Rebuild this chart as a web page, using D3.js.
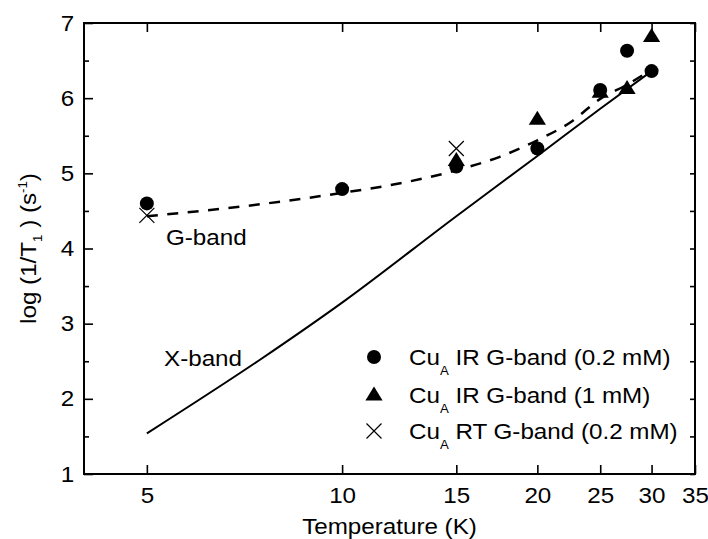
<!DOCTYPE html>
<html>
<head>
<meta charset="utf-8">
<script src="https://cdn.jsdelivr.net/npm/d3@7"></script>
<style>
  html, body { margin: 0; padding: 0; background: #fff; }
  svg { display: block; font-family: "Liberation Sans", Arial, Helvetica, sans-serif; }
</style>
</head>
<body>
<svg id="chart" width="708" height="539"></svg>
<script>
// Temperature axis (log spaced) and relaxation-rate axis
const tempTicks = [5, 10, 15, 20, 25, 30, 35];
const rateTicks = [1, 2, 3, 4, 5, 6, 7];
const rateMinorTicks = [1.5, 2.5, 3.5, 4.5, 5.5, 6.5];

// Cu_A IR G-band (0.2 mM)
const irLowT    = [5, 10, 15, 20, 25, 27.5, 30];
const irLowRate = [4.60, 4.79, 5.09, 5.33, 6.11, 6.63, 6.36];

// Cu_A IR G-band (1 mM)
const irHighT    = [15, 20, 25, 27.5, 30];
const irHighRate = [5.17, 5.72, 6.08, 6.13, 6.82];

// Cu_A RT G-band (0.2 mM)
const rtLowT    = [5, 15];
const rtLowRate = [4.44, 5.33];

// G-band fit curve (dashed)
const gFitT    = [5, 7.5, 10, 12.5, 15, 17.5, 20, 22.5, 25, 27.5, 30];
const gFitRate = [4.43, 4.59, 4.74, 4.88, 5.04, 5.22, 5.44, 5.68, 5.99, 6.18, 6.38];

// X-band curve (solid)
const xFitT    = [5, 7.5, 10, 15, 20, 25, 30];
const xFitRate = [1.54, 2.53, 3.28, 4.43, 5.23, 5.86, 6.36];

const legendLabels = ["IR G-band (0.2 mM)", "IR G-band (1 mM)", "RT G-band (0.2 mM)"];

const W = 708, H = 539;
const plot = { left: 84, right: 695, top: 23, bottom: 474 };
const FS = 22;           // main font size
const STRETCH = 1.1;     // slightly wide lettering

const svg = d3.select("#chart");

const x = d3.scaleLog().domain([4, 35]).range([plot.left, plot.right]);
const y = d3.scaleLinear().domain([1, 7]).range([plot.bottom, plot.top]);

const zip = (a, b) => a.map((v, i) => [v, b[i]]);

// ---- axes ----
const fmt = d3.format("d");

const gBottom = svg.append("g")
  .attr("transform", `translate(0,${plot.bottom})`)
  .call(d3.axisBottom(x).tickValues(tempTicks).tickFormat(fmt)
        .tickSizeInner(-9).tickSizeOuter(0).tickPadding(13));

const gTop = svg.append("g")
  .attr("transform", `translate(0,${plot.top})`)
  .call(d3.axisTop(x).tickValues(tempTicks).tickFormat("")
        .tickSizeInner(-9).tickSizeOuter(0));

const gLeft = svg.append("g")
  .attr("transform", `translate(${plot.left},0)`)
  .call(d3.axisLeft(y).tickValues(rateTicks).tickFormat(fmt)
        .tickSizeInner(-9).tickSizeOuter(0).tickPadding(9));

const gLeftMinor = svg.append("g")
  .attr("transform", `translate(${plot.left},0)`)
  .call(d3.axisLeft(y).tickValues(rateMinorTicks).tickFormat("")
        .tickSizeInner(-5).tickSizeOuter(0));

const gRight = svg.append("g")
  .attr("transform", `translate(${plot.right},0)`)
  .call(d3.axisRight(y).tickValues(rateTicks.concat(rateMinorTicks)).tickFormat("")
        .tickSizeInner(-5).tickSizeOuter(0));

[gBottom, gTop, gLeft, gLeftMinor, gRight].forEach(g => {
  g.select(".domain").remove();
  g.selectAll(".tick line").attr("stroke", "#000").attr("stroke-width", 1.6);
  g.selectAll(".tick text")
    .attr("fill", "#000")
    .style("font-size", FS + "px")
    .style("font-family", "inherit");
});
gBottom.selectAll(".tick text").attr("transform", `scale(${STRETCH},1)`);
gLeft.selectAll(".tick text").attr("transform", `scale(${STRETCH},1)`);

// frame
svg.append("rect")
  .attr("x", plot.left).attr("y", plot.top)
  .attr("width", plot.right - plot.left).attr("height", plot.bottom - plot.top)
  .attr("fill", "none").attr("stroke", "#000").attr("stroke-width", 2);

// ---- curves ----
svg.append("path")
  .datum(zip(xFitT, xFitRate))
  .attr("d", d3.line().x(d => x(d[0])).y(d => y(d[1])).curve(d3.curveMonotoneX))
  .attr("fill", "none").attr("stroke", "#000").attr("stroke-width", 2);

svg.append("path")
  .datum(zip(gFitT, gFitRate))
  .attr("d", d3.line().x(d => x(d[0])).y(d => y(d[1])).curve(d3.curveMonotoneX))
  .attr("fill", "none").attr("stroke", "#000").attr("stroke-width", 2.5)
  .attr("stroke-dasharray", "11,9.5");

// ---- markers ----
const triPath = "M0,-8.5L8.6,5.5L-8.6,5.5Z";
const crossPath = "M-7.5,-7.5L7.5,7.5M-7.5,7.5L7.5,-7.5";

function drawTriangle(g, cx, cy) {
  g.append("path").attr("d", triPath).attr("transform", `translate(${cx},${cy})`).attr("fill", "#000");
}
function drawCircle(g, cx, cy) {
  g.append("circle").attr("cx", cx).attr("cy", cy).attr("r", 7).attr("fill", "#000");
}
function drawCross(g, cx, cy) {
  g.append("path").attr("d", crossPath).attr("transform", `translate(${cx},${cy})`)
    .attr("fill", "none").attr("stroke", "#000").attr("stroke-width", 1.2);
}

const gMarks = svg.append("g");
zip(irHighT, irHighRate).forEach(d => drawTriangle(gMarks, x(d[0]), y(d[1])));
zip(irLowT, irLowRate).forEach(d => drawCircle(gMarks, x(d[0]), y(d[1])));
zip(rtLowT, rtLowRate).forEach(d => drawCross(gMarks, x(d[0]), y(d[1])));

// ---- legend ----
const legendRows = [
  { draw: drawCircle,   label: legendLabels[0], my: 357, ty: 365 },
  { draw: drawTriangle, label: legendLabels[1], my: 395, ty: 403 },
  { draw: drawCross,    label: legendLabels[2], my: 431, ty: 439 }
];
const gLegend = svg.append("g");
legendRows.forEach(r => {
  r.draw(gLegend, 374, r.my);
  const t = gLegend.append("text")
    .attr("transform", `translate(409,${r.ty}) scale(${STRETCH},1)`)
    .style("font-size", FS + "px");
  t.append("tspan").text("Cu");
  t.append("tspan").text("A").style("font-size", "12px").attr("dy", 10);
  t.append("tspan").text(" " + r.label).attr("dy", -10);
});

// ---- annotations ----
svg.append("text")
  .attr("transform", `translate(166,245) scale(${STRETCH},1)`)
  .style("font-size", FS + "px").text("G-band");
svg.append("text")
  .attr("transform", `translate(164,366) scale(${STRETCH},1)`)
  .style("font-size", FS + "px").text("X-band");

// ---- axis titles ----
svg.append("text")
  .attr("transform", `translate(${(plot.left + plot.right) / 2},534) scale(${STRETCH},1)`)
  .attr("text-anchor", "middle")
  .style("font-size", FS + "px").text("Temperature (K)");

const yTitle = svg.append("text")
  .attr("transform", `translate(36,${(plot.top + plot.bottom) / 2}) rotate(-90) scale(${STRETCH},1)`)
  .attr("text-anchor", "middle")
  .style("font-size", FS + "px");
yTitle.append("tspan").text("log (1/T");
yTitle.append("tspan").text("1").style("font-size", "12px").attr("dy", 6);
yTitle.append("tspan").text(" ) (s").attr("dy", -6);
yTitle.append("tspan").text("-1").style("font-size", "12px").attr("dy", -9);
yTitle.append("tspan").text(")").attr("dy", 9);
</script>
</body>
</html>
